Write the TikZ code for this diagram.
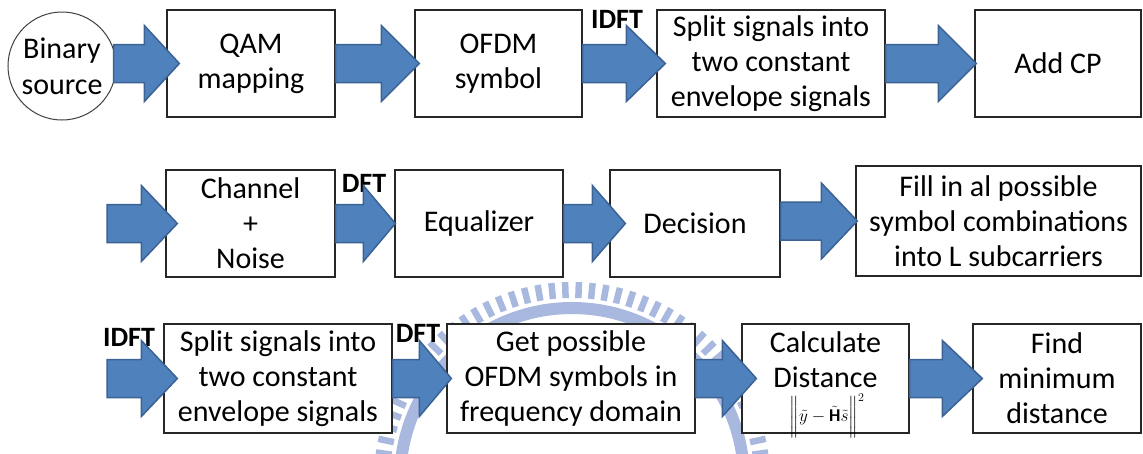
\documentclass[tikz,border=0pt]{standalone}
\usepackage{amsmath}
\usepackage{fontspec}
\setmainfont{Carlito}
\usetikzlibrary{calc}

\definecolor{arrowblue}{RGB}{79,129,189}
\definecolor{arrowedge}{RGB}{60,98,148}
\definecolor{seal}{RGB}{168,184,222}

% block arrow from a tail point to a tip point (shifted right by #3), head length #4
\newcommand\flowarrow[4]{%
  \draw[barrow] let \p1=(#1), \p2=($(#2)+(#3,0)$) in
    (\x1,\y2+19pt) -- (\x2-#4pt,\y2+19pt) -- (\x2-#4pt,\y2+38pt) -- (\x2,\y2)
    -- (\x2-#4pt,\y2-38pt) -- (\x2-#4pt,\y2-19pt) -- (\x1,\y2-19pt) -- cycle;}

\tikzset{
  box/.style={draw=black!85, line width=1.3pt, fill=white, inner sep=0pt,
    align=center, font=\fontsize{30}{35}\selectfont},
  barrow/.style={fill=arrowblue, draw=arrowedge, line width=1.5pt, line join=miter},
  tlabel/.style={inner sep=0pt, font=\fontsize{28}{30}\selectfont\bfseries},
}

\begin{document}
\begin{tikzpicture}[x=1pt,y=-1pt]
\useasboundingbox (0,0) rectangle (1143,453);

% faint seal in the background
\begin{scope}
  \clip (0,0) rectangle (1143,453);
  \foreach \a in {0,4,...,356}
    \draw[seal, line width=6.5pt] ($(572,480)+(\a:182)$) -- ($(572,480)+(\a:198)$);
  \draw[seal, line width=12pt] (572,480) circle[radius=172];
\end{scope}

% row 1
\node[circle, draw=black!75, line width=1pt, fill=white, minimum size=108pt,
  inner sep=0pt, align=center, font=\fontsize{30}{36}\selectfont] (src) at (62,66) {Binary\\source};
\node[box, minimum width=168pt, minimum height=107pt] (qam) at (251,63.5) {QAM\\mapping};
\node[box, minimum width=167pt, minimum height=107pt] (ofdm) at (498.5,63.5) {OFDM\\symbol};
\node[box, minimum width=228pt, minimum height=107pt] (split1) at (771,63.5) {Split signals into\\two constant\\envelope signals};
\node[box, minimum width=166pt, minimum height=107pt] (addcp) at (1058,63.5) {Add CP};
\node[tlabel] (idft1) at (617,19) {IDFT};

% row 2
\coordinate (in2) at (107,223.5);
\node[box, minimum width=169pt, minimum height=107pt] (chan) at (250.5,223.5) {Channel\\+\\Noise};
\node[box, minimum width=168pt, minimum height=107pt] (eq) at (479,223.5) {Equalizer};
\node[box, minimum width=170pt, minimum height=107pt] (dec) at (695,223.5) {Decision};
\node[box, minimum width=285pt, minimum height=110pt] (fill) at (998.5,221) {Fill in al possible\\symbol combinations\\into L subcarriers};
\node[tlabel] (dft2) at (364,183) {DFT};

% row 3
\coordinate (in3) at (107,378.5);
\node[box, minimum width=228pt, minimum height=109pt] (split2) at (278,378.5) {Split signals into\\two constant\\envelope signals};
\node[box, minimum width=248pt, minimum height=109pt] (get) at (571,378.5) {Get possible\\OFDM symbols in\\frequency domain};
\node[box, minimum width=167pt, minimum height=109pt] (calc) at (825.5,378.5) {};
\node[box, minimum width=168pt, minimum height=109pt] (find) at (1057,378.5) {Find\\minimum\\distance};
\node[tlabel] (idft3) at (129,337) {IDFT};
\node[tlabel] (dft3) at (418,333) {DFT};
\node[inner sep=0pt, align=center, font=\fontsize{30}{35}\selectfont, anchor=north] (calct) at (825.5,331) {Calculate\\Distance};
\node[inner sep=0pt, font=\fontsize{18}{21.6}\selectfont] (dist) at (827,416)
  {$\bigg\|\tilde{y}-\tilde{\mathbf{H}}\tilde{s}\bigg\|^{2}$};

% arrows
\flowarrow{$(src.east)+(-3,0)$}{qam.west}{13}{35}
\flowarrow{qam.east}{ofdm.west}{5}{38}
\flowarrow{ofdm.east}{split1.west}{9}{39}
\flowarrow{split1.east}{addcp.west}{2}{38}
\flowarrow{in2}{chan.west}{12}{36}
\flowarrow{chan.east}{eq.west}{1}{32}
\flowarrow{eq.east}{dec.west}{16}{33}
\flowarrow{dec.east}{fill.west}{2}{36}
\flowarrow{in3}{split2.west}{14}{36}
\flowarrow{split2.east}{get.west}{5}{32}
\flowarrow{get.east}{calc.west}{15}{34}
\flowarrow{calc.east}{find.west}{10}{40}
\end{tikzpicture}
\end{document}
